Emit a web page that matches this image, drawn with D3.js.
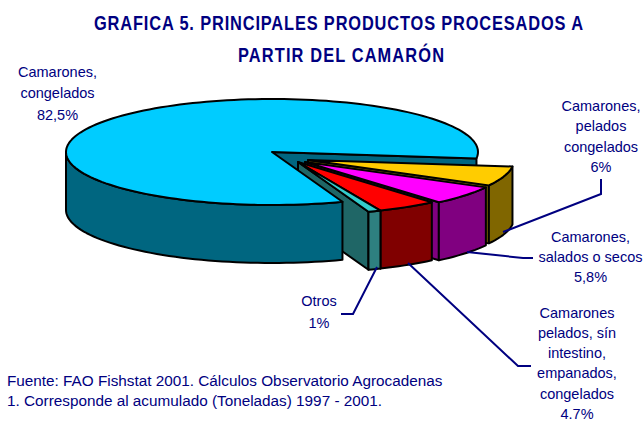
<!DOCTYPE html>
<html><head><meta charset="utf-8">
<style>html,body{margin:0;padding:0;background:#fff}svg{display:block}text{font-family:"Liberation Sans",Arial,sans-serif}</style>
<script src="https://cdn.jsdelivr.net/npm/d3@7"></script></head><body><div id="c"></div>
<script>
const categories=["Camarones, congelados","Camarones, pelados congelados","Camarones, salados o secos","Camarones pelados, sín intestino, empanados, congelados","Otros"];
const values=[82.5,6,5.8,4.7,1];
const topColors=["#00CCFF","#FFCC00","#FF00FF","#FF0000","#33CCCC"];
const wallColors=["#006680","#806600","#800080","#800000","#2E8080"];
const faceColors=["#006680","#806600","#800080","#800000","#1F6666"];
const titleLines=["GRAFICA 5. PRINCIPALES PRODUCTOS PROCESADOS A","PARTIR DEL CAMARÓN"];
const sourceLines=["Fuente: FAO Fishstat 2001. Cálculos Observatorio Agrocadenas","1. Corresponde al acumulado (Toneladas) 1997 - 2001."];
const labelLines=[["Camarones,","congelados","82,5%"],["Camarones,","pelados","congelados","6%"],["Camarones,","salados o secos","5,8%"],["Camarones","pelados, sín","intestino,","empanados,","congelados","4.7%"],["Otros","1%"]];

const W=644,H=422,rx=206,ry=53,depth=58;
const centers=[[272,152],[308,160],[305,162],[298,162],[298,162]];
const svg=d3.select("#c").append("svg").attr("width",W).attr("height",H);
const toRad=Math.PI/180;
const pie=d3.pie().sort(null).startAngle(160*toRad).endAngle(520*toRad);
const arcs=pie(values);
const line=d3.line();
const pt=(c,a,dy=0)=>[c[0]+rx*Math.cos(a-Math.PI/2),c[1]+ry*Math.sin(a-Math.PI/2)+dy];
const arcPts=(c,a0,a1,dy=0)=>{const n=Math.max(2,Math.ceil(Math.abs(a1-a0)/(2*toRad)));return d3.range(n+1).map(i=>pt(c,a0+(a1-a0)*i/n,dy));};
const draw=(pts,fill)=>svg.append("path").attr("d",line(pts)+"Z").attr("fill",fill).attr("stroke","#000").attr("stroke-width",2).attr("stroke-linejoin","round");
function topFace(i){const c=centers[i],a=arcs[i];draw([c,...arcPts(c,a.startAngle,a.endAngle)],topColors[i]);}
function endFace(i,ang,col){const c=centers[i],p=pt(c,ang);draw([c,p,[p[0],p[1]+depth],[c[0],c[1]+depth]],col);}
function wall(i,a0,a1){const c=centers[i];draw([...arcPts(c,a0,a1),...arcPts(c,a1,a0,depth)],wallColors[i]);}

// main slice's far cut face
endFace(0,arcs[0].endAngle,faceColors[0]);
// exploded slices, back to front
[1,2,3,4].forEach(i=>{
  endFace(i,arcs[i].endAngle,faceColors[i]);
  wall(i,arcs[i].startAngle,arcs[i].endAngle);
  topFace(i);
});
// main slice, front wall down to its leftmost point
wall(0,arcs[0].startAngle,270*toRad);
topFace(0);

const navy="#000080";
const leaders=[[[503,232],[601,194],[601,179]],[[467,252],[523,258],[533,258]],[[408,263],[518,366],[531,366]],[[377,267],[353,314],[341,314]]];
leaders.forEach(l=>svg.append("path").attr("d",line(l)).attr("fill","none").attr("stroke",navy).attr("stroke-width",2));

const narrow=0.82;
titleLines.forEach((t,i)=>svg.append("text").text(t)
  .attr("transform",`translate(${[338.5,341][i]},${[30,62][i]}) scale(${narrow},1)`).attr("text-anchor","middle")
  .attr("font-size",20).attr("font-weight","bold").attr("fill",navy)
  .attr("textLength",[489,206][i]/narrow).attr("lengthAdjust","spacing"));

const labelPos=[[57.5,77,21.4],[601,111,20.4],[590.5,242,20],[577,318,20.15],[319,306,22]];
labelLines.forEach((ls,i)=>ls.forEach((t,j)=>svg.append("text").text(t).attr("x",labelPos[i][0]).attr("y",labelPos[i][1]+j*labelPos[i][2])
  .attr("text-anchor","middle").attr("font-size",14.5).attr("fill",navy)));
sourceLines.forEach((t,i)=>svg.append("text").text(t).attr("x",7).attr("y",386+i*20).attr("font-size",15.3).attr("fill",navy));
</script></body></html>
